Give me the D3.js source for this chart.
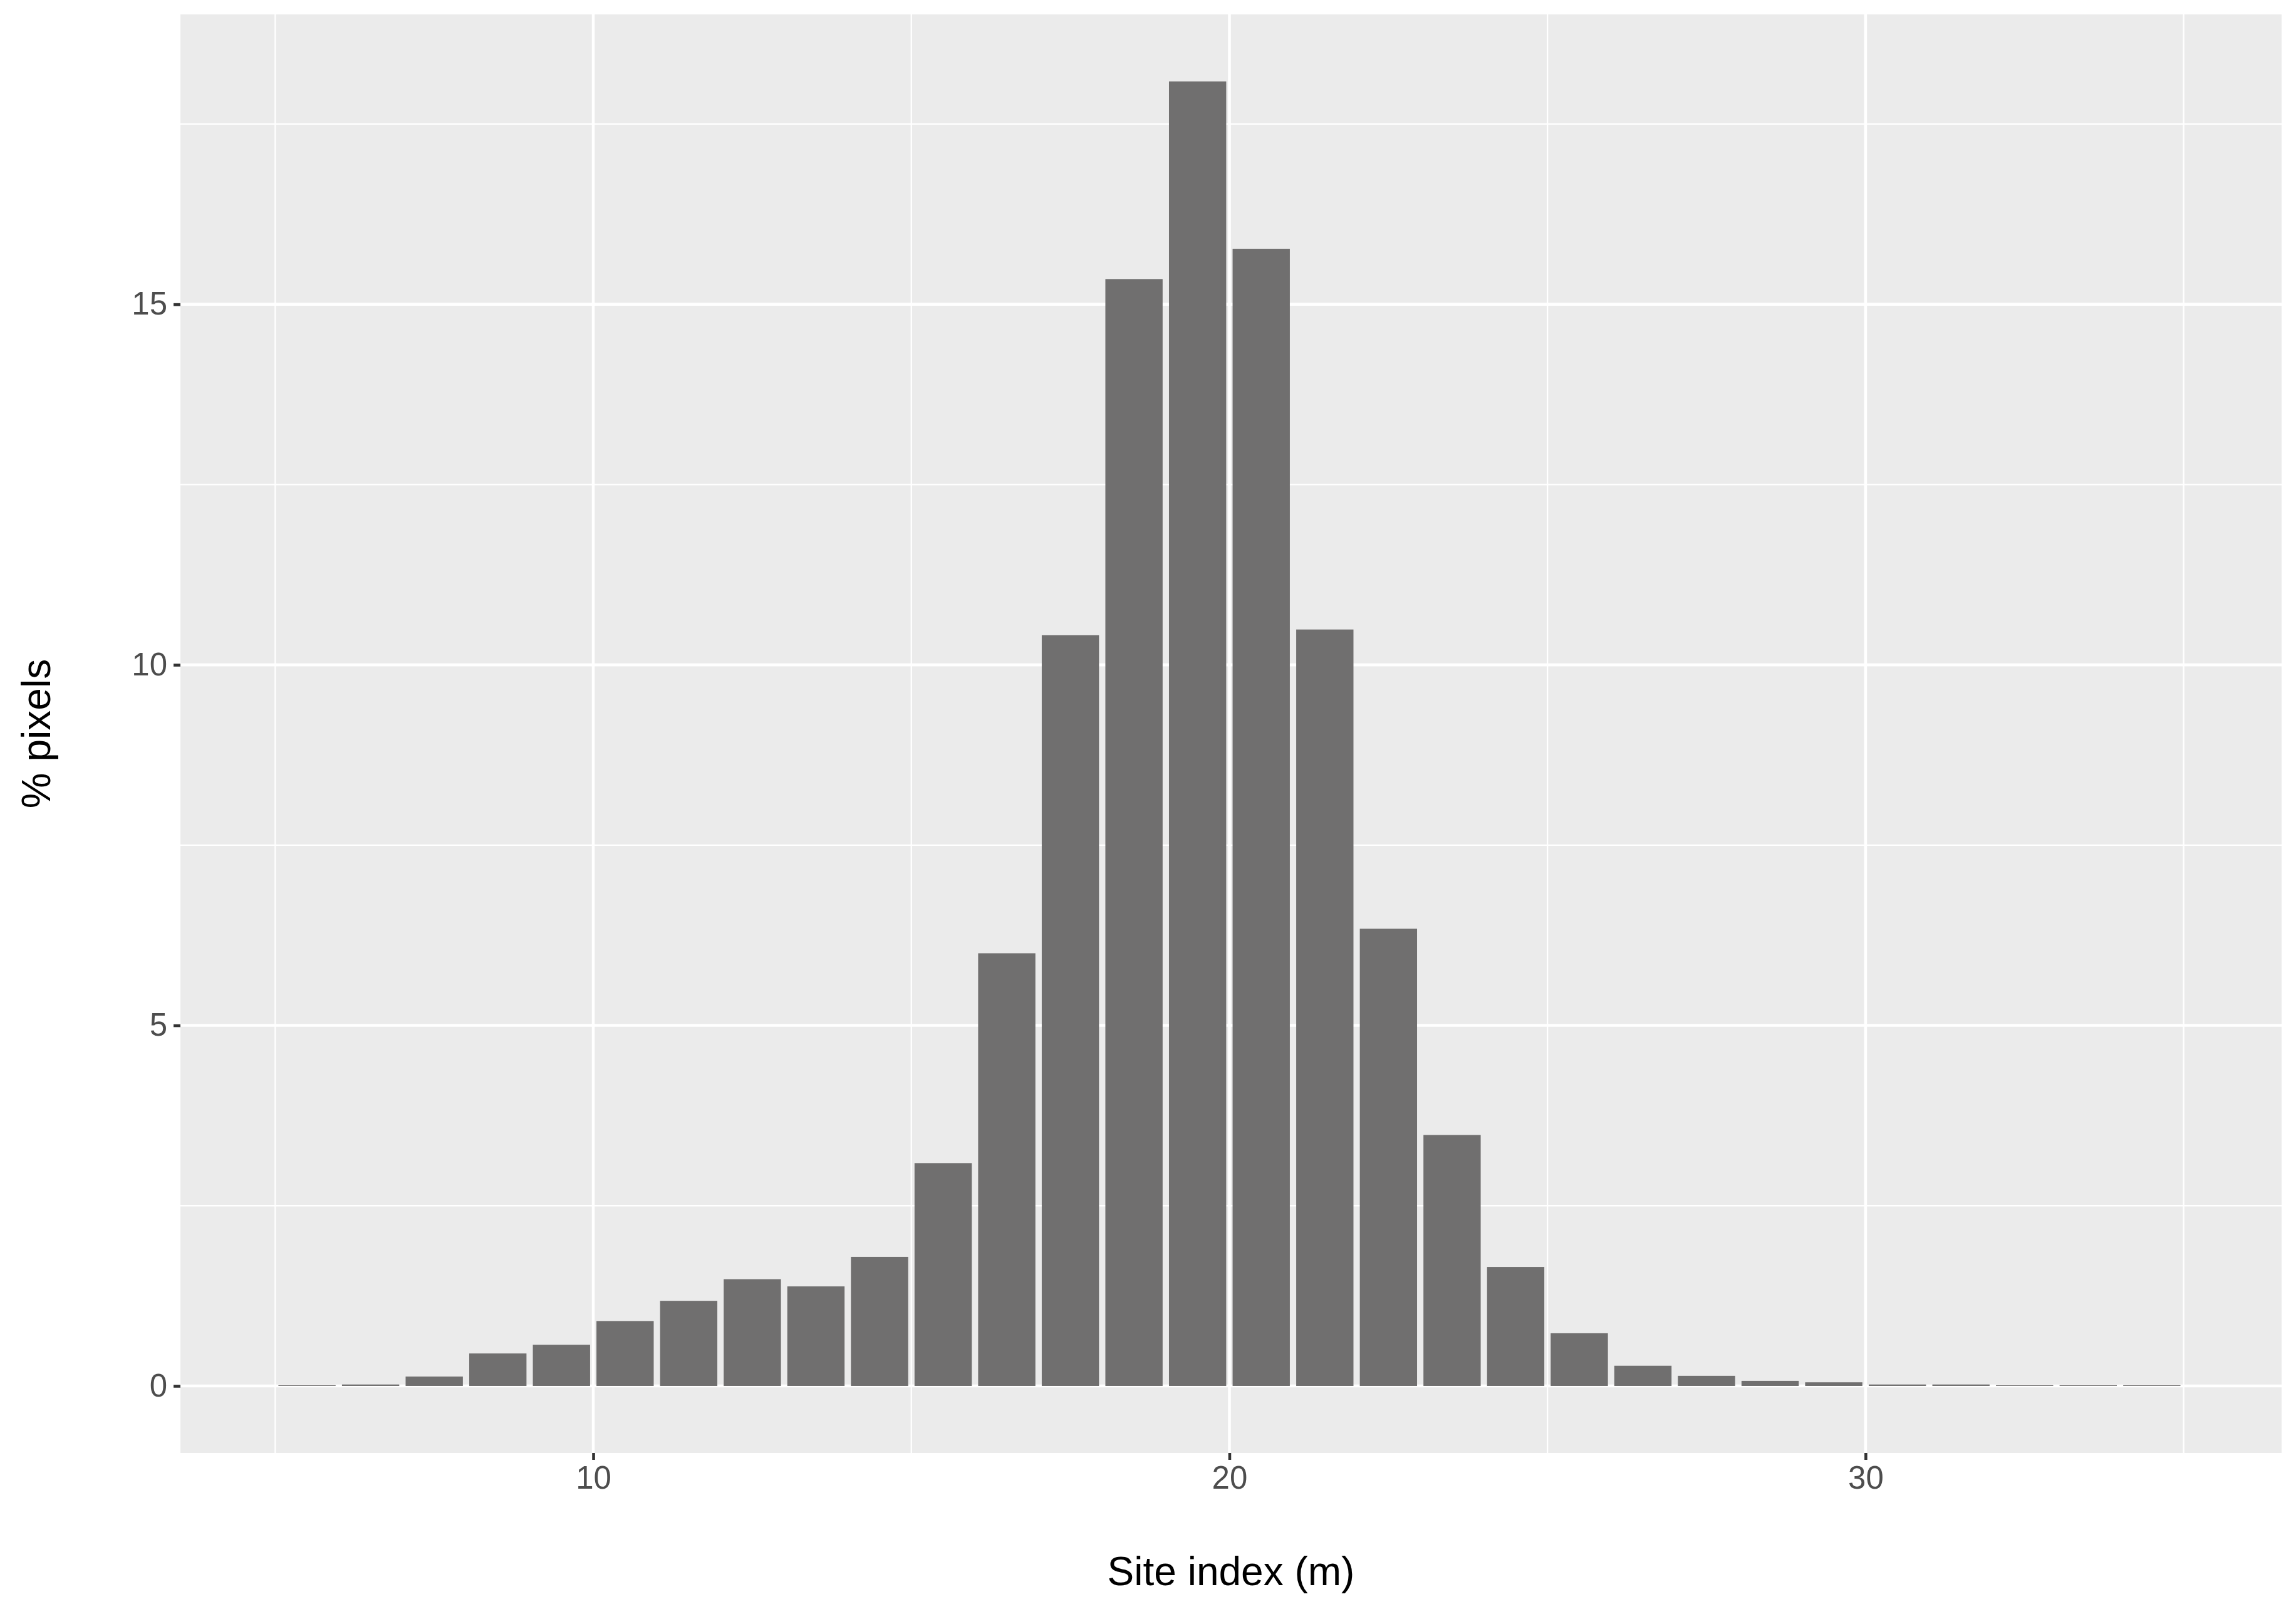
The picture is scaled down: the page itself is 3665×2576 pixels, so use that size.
<!DOCTYPE html>
<html><head><meta charset="utf-8">
<script src="https://d3js.org/d3.v7.min.js"></script>
<style>body{margin:0;background:#fff}</style></head>
<body><svg id="c" width="3665" height="2576"></svg>
<script>
const binCenters=[5.5,6.5,7.5,8.5,9.5,10.5,11.5,12.5,13.5,14.5,15.5,16.5,17.5,18.5,19.5,20.5,21.5,22.5,23.5,24.5,25.5,26.5,27.5,28.5,29.5,30.5,31.5,32.5,33.5,34.5];
const percentPixels=[0.01,0.02,0.13,0.45,0.57,0.9,1.18,1.48,1.38,1.79,3.09,6.0,10.41,15.35,18.09,15.77,10.49,6.34,3.48,1.65,0.73,0.28,0.14,0.07,0.05,0.02,0.02,0.01,0.01,0.01];
const xTicks=[10,20,30], xMinor=[5,15,25,35];
const yTicks=[0,5,10,15], yMinor=[2.5,7.5,12.5,17.5];
const svg=d3.select("#c");
const L=288,R=3642,T=23,B=2319;
const x=d3.scaleLinear().domain([3.51,36.54]).range([L,R]);
const y=d3.scaleLinear().domain([-0.93,19.02]).range([B,T]);
svg.append("rect").attr("x",L).attr("y",T).attr("width",R-L).attr("height",B-T).attr("fill","#EBEBEB");
const g=svg.append("g");
xMinor.forEach(v=>g.append("line").attr("x1",x(v)).attr("x2",x(v)).attr("y1",T).attr("y2",B).attr("stroke","#fff").attr("stroke-width",2.3));
yMinor.forEach(v=>g.append("line").attr("y1",y(v)).attr("y2",y(v)).attr("x1",L).attr("x2",R).attr("stroke","#fff").attr("stroke-width",2.3));
xTicks.forEach(v=>g.append("line").attr("x1",x(v)).attr("x2",x(v)).attr("y1",T).attr("y2",B).attr("stroke","#fff").attr("stroke-width",4.6));
yTicks.forEach(v=>g.append("line").attr("y1",y(v)).attr("y2",y(v)).attr("x1",L).attr("x2",R).attr("stroke","#fff").attr("stroke-width",4.6));
svg.append("g").selectAll("rect").data(binCenters).join("rect")
 .attr("x",(d)=>x(d-0.45)).attr("width",x(0.9)-x(0))
 .attr("y",(d,i)=>y(percentPixels[i])).attr("height",(d,i)=>y(0)-y(percentPixels[i]))
 .attr("fill","#706F6F");
const xa=svg.append("g").attr("transform",`translate(0,${B})`).call(d3.axisBottom(x).tickValues(xTicks).tickSize(11).tickPadding(10));
const ya=svg.append("g").attr("transform",`translate(${L},0)`).call(d3.axisLeft(y).tickValues(yTicks).tickSize(11).tickPadding(10));
[xa,ya].forEach(a=>{a.select(".domain").remove();a.selectAll("line").attr("stroke","#333").attr("stroke-width",4.6);
 a.selectAll("text").attr("fill","#4D4D4D").style("font-family","Liberation Sans, Arial").style("font-size","51px");});
svg.append("text").attr("x",(L+R)/2).attr("y",2530).attr("text-anchor","middle").style("font-family","Liberation Sans, Arial").style("font-size","64px").text("Site index (m)");
svg.append("text").attr("transform",`translate(80,${(T+B)/2}) rotate(-90)`).attr("text-anchor","middle").style("font-family","Liberation Sans, Arial").style("font-size","64px").text("% pixels");
</script></body></html>
